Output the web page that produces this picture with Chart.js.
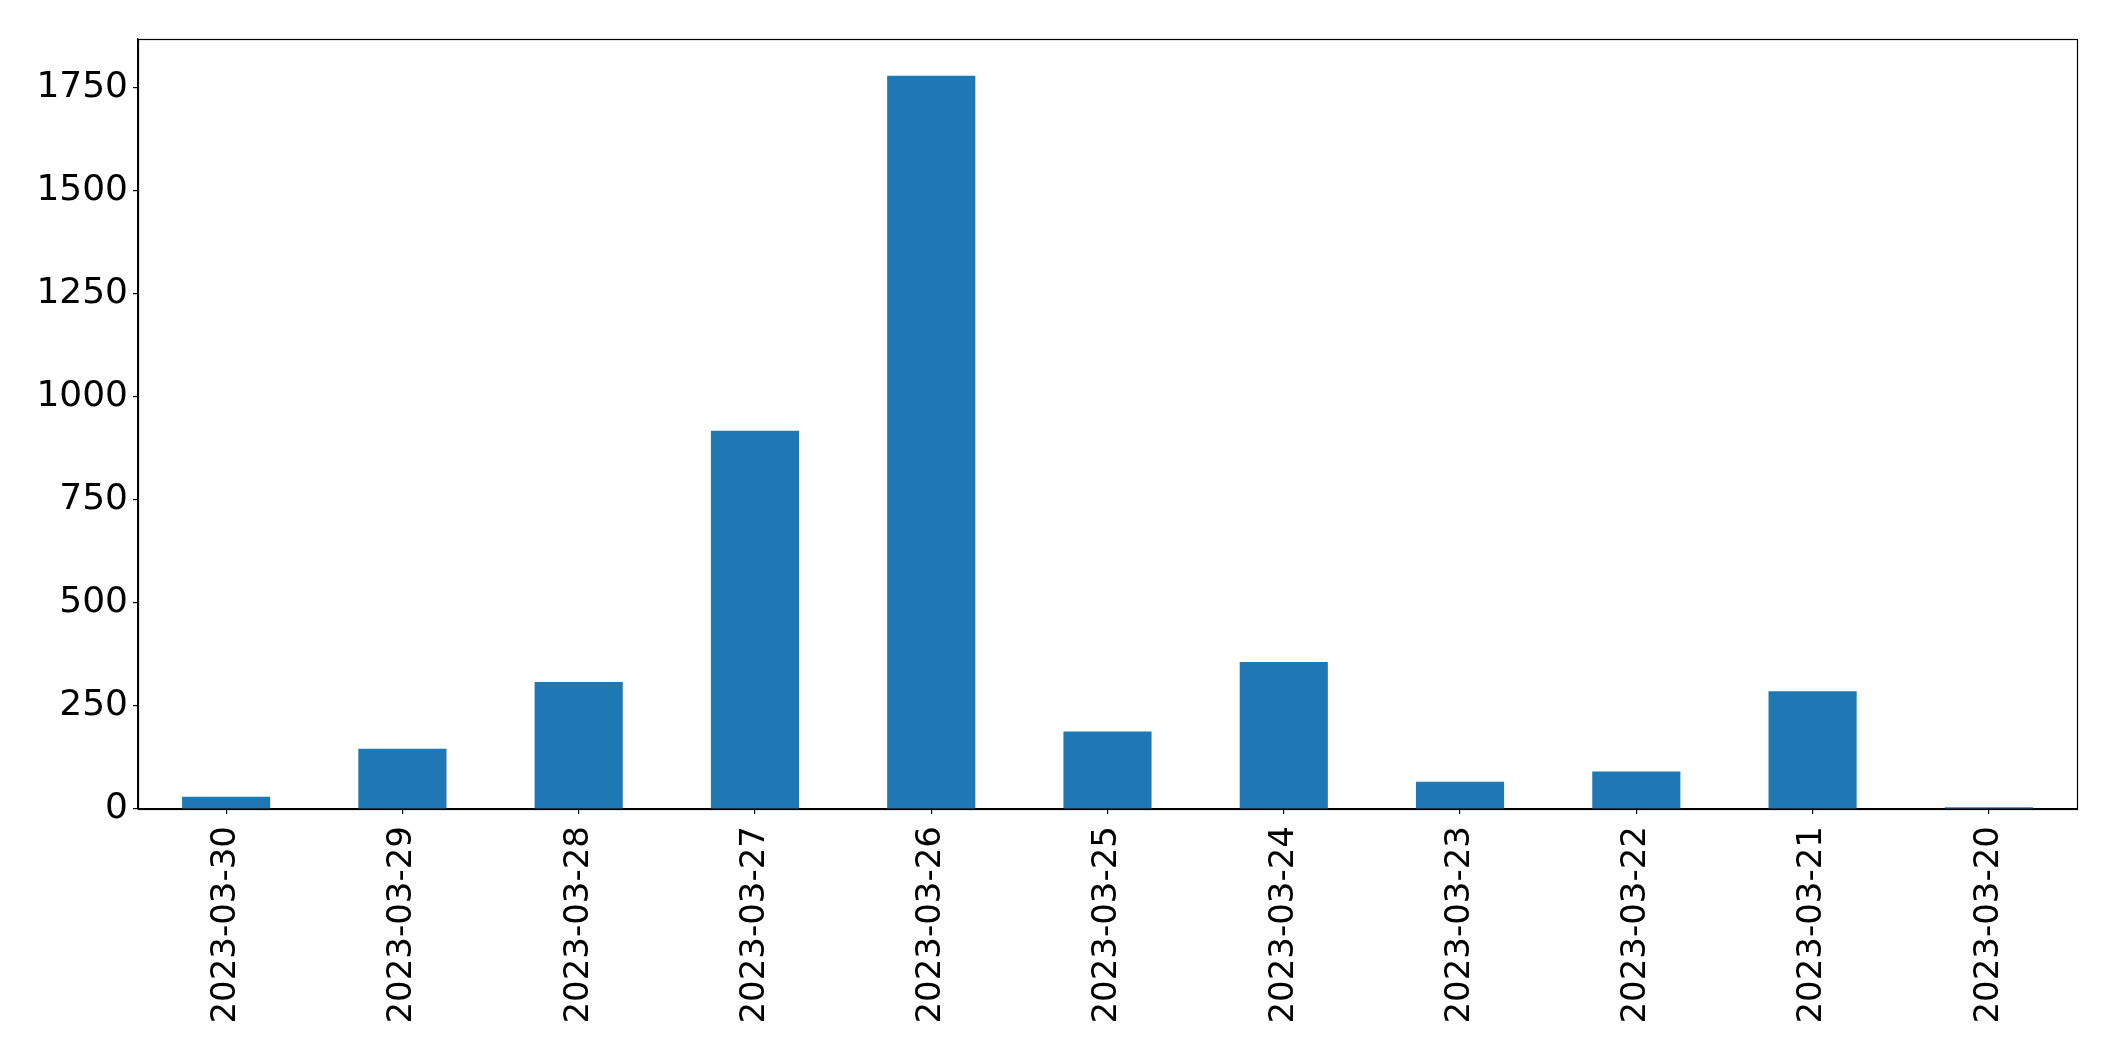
<!DOCTYPE html>
<html>
<head>
<meta charset="utf-8">
<script src="https://cdn.jsdelivr.net/npm/chart.js@4/dist/chart.umd.min.js"></script>
<style>
  html, body { margin: 0; padding: 0; background: #ffffff; }
  #wrap { width: 2115px; height: 1061px; }
</style>
</head>
<body>
<div id="wrap"><canvas id="c" width="2115" height="1061"></canvas></div>
<script>
const categories = ["2023-03-30", "2023-03-29", "2023-03-28", "2023-03-27", "2023-03-26", "2023-03-25", "2023-03-24", "2023-03-23", "2023-03-22", "2023-03-21", "2023-03-20"];
const counts = [30, 146, 308, 918, 1780, 188, 357, 66, 91, 286, 4];
const yTicks = [0, 250, 500, 750, 1000, 1250, 1500, 1750];

const boxPlugin = {
  id: 'box',
  afterDraw(chart) {
    const a = chart.chartArea;
    const ctx = chart.ctx;
    ctx.save();
    ctx.strokeStyle = '#000000';
    ctx.lineWidth = 1.2;
    ctx.strokeRect(Math.round(a.left) + 0.5, Math.round(a.top) + 0.5, Math.round(a.right - a.left), Math.round(a.bottom - a.top));
    ctx.restore();
  }
};

const FONT = "'DejaVu Sans', sans-serif";

new Chart(document.getElementById('c'), {
  type: 'bar',
  data: {
    labels: categories,
    datasets: [{
      data: counts,
      backgroundColor: '#1f77b4',
      borderWidth: 0,
      barPercentage: 0.5,
      categoryPercentage: 1.0
    }]
  },
  options: {
    responsive: false,
    animation: false,
    devicePixelRatio: 1,
    layout: { padding: { left: 0, top: 39, right: 38, bottom: 0 } },
    plugins: { legend: { display: false }, tooltip: { enabled: false } },
    scales: {
      x: {
        offset: true,
        grid: { display: true, drawOnChartArea: false, drawTicks: true, tickLength: 5, color: '#000000', lineWidth: 1.2, offset: false },
        border: { display: true, color: '#000000', width: 1.2 },
        ticks: {
          color: '#000000',
          font: { family: FONT, size: 34 },
          minRotation: 90,
          maxRotation: 90,
          padding: 12,
          autoSkip: false
        },
        afterFit(scale) { scale.height = 252; }
      },
      y: {
        min: 0,
        max: Math.max(...counts) * 1.05,
        grid: { display: true, drawOnChartArea: false, drawTicks: true, tickLength: 5, color: '#000000', lineWidth: 1.2 },
        border: { display: true, color: '#000000', width: 1.2 },
        ticks: {
          color: '#000000',
          font: { family: FONT, size: 36 },
          padding: 5,
          callback: (v) => String(v)
        },
        afterBuildTicks(scale) { scale.ticks = yTicks.map(v => ({ value: v })); },
        afterFit(scale) { scale.width = 138; }
      }
    }
  },
  plugins: [boxPlugin]
});
</script>
</body>
</html>
